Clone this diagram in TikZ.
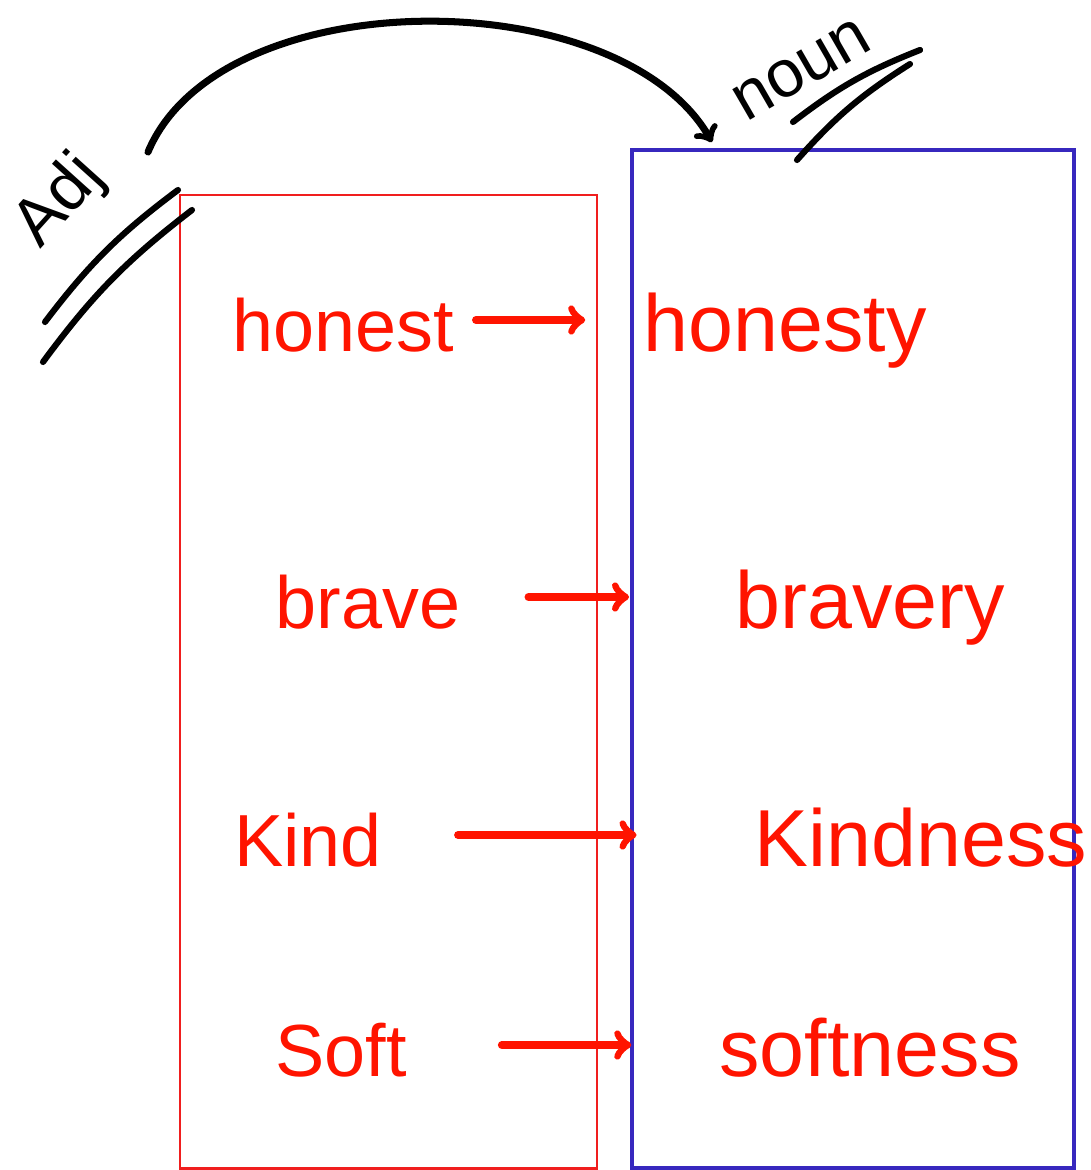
\documentclass[tikz,border=0pt]{standalone}
\usepackage{fontspec}
\setmainfont{Liberation Sans}
\definecolor{inkred}{RGB}{255,20,0}
\definecolor{boxred}{RGB}{240,30,30}
\definecolor{boxblue}{RGB}{55,40,190}
\tikzset{
  word/.style={text=inkred, font=\fontsize{42}{50}\selectfont, text height=36pt, text depth=0pt},
  nounword/.style={word, font=\fontsize{46}{54}\selectfont},
  change/.style={->, inkred, line width=4.5pt, line cap=round},
  tag/.style={font=\fontsize{38}{46}\selectfont, inner sep=1pt},
  uline/.style={line width=3.5pt, line cap=round},
}
\begin{document}
\begin{tikzpicture}[x=0.02cm,y=-0.02cm]
\useasboundingbox (0,0) rectangle (1090,1170);
\draw[boxred,line width=1.7pt] (180,195) rectangle (597,1168);
\draw[boxblue,line width=2pt] (632,150) rectangle (1074,1168);

% adjectives and nouns
\node[word] (honest) at (343,320) {honest};
\node[word] (brave) at (368,597) {brave};
\node[word] (kind) at (308,835) {Kind};
\node[word] (soft) at (341,1045) {Soft};

\node[nounword] (honesty) at (785,320) {honesty};
\node[nounword] (bravery) at (870,597) {bravery};
\node[nounword] (kindness) at (921,835) {Kindness};
\node[nounword] (softness) at (870,1045) {softness};

\draw[change,shorten <=0.32cm,shorten >=1.04cm] (honest) -- (honesty);
\draw[change,shorten <=1.24cm,shorten >=2cm] (brave) -- (bravery);
\draw[change,shorten <=1.4cm,shorten >=2.24cm] (kind) -- (kindness);
\draw[change,shorten <=1.78cm,shorten >=1.64cm] (soft) -- (softness);

% headings
\node[tag,rotate=48] (adj) at (60,202) {Adj};
\node[tag,rotate=30] (noun) at (802,70) {noun};
\draw[uline] (45,322) to[bend left=8] (178,190);
\draw[uline] (43,362) to[bend left=8] (192,210);
\draw[uline] (793,122) to[bend left=8] (920,50);
\draw[uline] (797,160) to[bend left=8] (910,64);

\coordinate (arcstart) at (148,152);
\coordinate (arcend) at (712,142);
\draw[->,line width=4pt,line cap=round] (arcstart) .. controls (220,-20) and (620,-20) .. (arcend);
\end{tikzpicture}
\end{document}
